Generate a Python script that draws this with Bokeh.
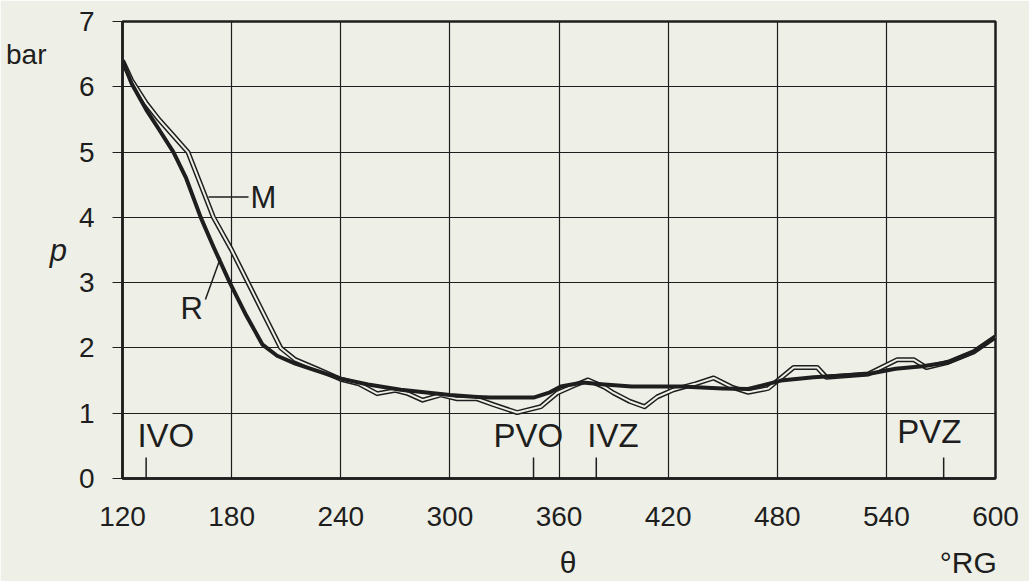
from bokeh.plotting import figure
from bokeh.models import Range1d, FixedTicker, Label, ColumnDataSource, LinearAxis
from bokeh.embed import file_html
from bokeh.resources import INLINE

# crank angle (deg) and pressure (bar), curve R (measured) and curve M (model)
theta_R = [120, 125, 133, 140, 148, 155, 163, 170, 179, 188, 197, 205, 215, 227,
           240, 255, 273, 300, 315, 322, 346, 355, 361, 373, 385, 400, 427, 450,
           464, 482, 500, 530, 545, 560, 574, 588, 600]
p_R = [6.40, 6.05, 5.65, 5.35, 5.00, 4.60, 4.00, 3.55, 3.00, 2.50, 2.05, 1.88, 1.76, 1.65,
       1.53, 1.44, 1.36, 1.28, 1.25, 1.24, 1.24, 1.32, 1.41, 1.47, 1.44, 1.41, 1.41, 1.38,
       1.37, 1.50, 1.55, 1.60, 1.68, 1.72, 1.78, 1.94, 2.17]

theta_M = [120, 125, 133, 140, 148, 156, 163, 170, 180, 189, 198, 207, 215, 227,
           240, 250, 260, 270, 277, 285, 295, 304, 315, 324, 337, 350, 359, 368,
           376, 385, 390, 399, 407, 414, 423, 435, 445, 455, 464, 475, 489, 502,
           507, 530, 546, 555, 562, 574, 588, 600]
p_M = [6.40, 6.10, 5.75, 5.50, 5.25, 5.00, 4.50, 4.00, 3.50, 3.00, 2.50, 2.00, 1.82, 1.68,
       1.52, 1.45, 1.30, 1.35, 1.30, 1.20, 1.28, 1.22, 1.22, 1.13, 1.01, 1.10, 1.31, 1.42,
       1.51, 1.40, 1.31, 1.18, 1.10, 1.25, 1.36, 1.45, 1.54, 1.40, 1.32, 1.38, 1.70, 1.70,
       1.55, 1.60, 1.82, 1.82, 1.70, 1.78, 1.94, 2.17]

x_ticks = [120, 180, 240, 300, 360, 420, 480, 540, 600]
y_ticks = [0, 1, 2, 3, 4, 5, 6, 7]

events = ["IVO", "PVO", "IVZ", "PVZ"]
event_theta = [133, 346, 380.5, 571.5]

BG = "#eef0e7"
INK = "#1e1e1e"
FONT = "Liberation Sans"

p = figure(width=1029, height=581, output_backend="svg", toolbar_location=None,
           x_range=Range1d(120, 600), y_range=Range1d(0, 7),
           min_border_left=122, min_border_right=34, min_border_top=21, min_border_bottom=102)
p.background_fill_color = BG
p.border_fill_color = BG
p.outline_line_color = INK
p.outline_line_width = 2.5

p.xaxis.ticker = FixedTicker(ticks=x_ticks)
p.yaxis.ticker = FixedTicker(ticks=y_ticks)
p.xgrid.ticker = FixedTicker(ticks=x_ticks)
p.ygrid.ticker = FixedTicker(ticks=y_ticks)
for g in (p.xgrid, p.ygrid):
    g.grid_line_color = INK
    g.grid_line_width = 1.2
    g.grid_line_alpha = 1.0

for ax in (p.xaxis, p.yaxis):
    ax.axis_line_color = INK
    ax.axis_line_width = 2.5
    ax.minor_tick_line_color = None
    ax.major_label_text_font = FONT
    ax.major_label_text_font_size = "28px"
    ax.major_label_text_color = INK
    ax.major_tick_in = 0

p.xaxis.major_tick_line_color = None
p.xaxis.major_tick_out = 0
p.xaxis.major_label_standoff = 28
p.yaxis.major_tick_out = 10
p.yaxis.major_tick_line_color = INK
p.yaxis.major_tick_line_width = 1.2
p.yaxis.major_label_standoff = 18

# y axis label "p"
p.yaxis.axis_label = "p"
p.yaxis.axis_label_orientation = "horizontal"
p.yaxis.axis_label_text_font = FONT
p.yaxis.axis_label_text_font_style = "italic"
p.yaxis.axis_label_text_font_size = "31px"
p.yaxis.axis_label_text_color = INK
p.yaxis.axis_label_standoff = 9

# extra left axis carrying the unit "bar"
unit_y = LinearAxis(ticker=FixedTicker(ticks=[6.5]), major_label_overrides={6.5: "bar"},
                    axis_line_color=None, major_tick_line_color=None,
                    minor_tick_line_color=None, major_tick_out=0, major_tick_in=0,
                    major_label_standoff=0, major_label_text_font=FONT,
                    major_label_text_font_size="28px", major_label_text_color=INK)
p.add_layout(unit_y, "left")

# extra bottom axis carrying "θ" and "°RG"
unit_x = LinearAxis(ticker=FixedTicker(ticks=[365, 585]),
                    major_label_overrides={365: "θ", 585: "°RG"},
                    axis_line_color=None, major_tick_line_color=None,
                    minor_tick_line_color=None, major_tick_out=0, major_tick_in=0,
                    major_label_standoff=17, major_label_text_font=FONT,
                    major_label_text_font_size="30px", major_label_text_color=INK)
p.add_layout(unit_x, "below")

src_M = ColumnDataSource(dict(x=theta_M, y=p_M))
src_R = ColumnDataSource(dict(x=theta_R, y=p_R))
p.line("x", "y", source=src_M, line_color=INK, line_width=5, line_join="round")
p.line("x", "y", source=src_M, line_color=BG, line_width=2, line_join="round")
p.line("x", "y", source=src_R, line_color=INK, line_width=4, line_join="round")

# event tick marks
p.segment(x0=event_theta, y0=[0] * 4, x1=event_theta, y1=[0.32] * 4,
          line_color=INK, line_width=1.5)

def lab(x, y, t, size="33px", align="left", base="bottom", style="normal"):
    p.add_layout(Label(x=x, y=y, text=t, text_font=FONT, text_font_size=size,
                       text_color=INK, text_align=align, text_baseline=base,
                       text_font_style=style))

for name, xpos, ypos in zip(events, [128.2, 324.0, 375.6, 546.0], [0.37, 0.38, 0.38, 0.44]):
    lab(xpos, ypos, name)

# curve labels
p.segment(x0=[167.3], y0=[4.31], x1=[189.3], y1=[4.31], line_color=INK, line_width=1.5)
lab(190.4, 4.31, "M", size="31px", base="middle")
p.segment(x0=[165.6], y0=[2.74], x1=[173.9], y1=[3.38], line_color=INK, line_width=1.5)
lab(151.9, 2.33, "R", size="31px")

open("out.html", "w").write(file_html(p, INLINE))
